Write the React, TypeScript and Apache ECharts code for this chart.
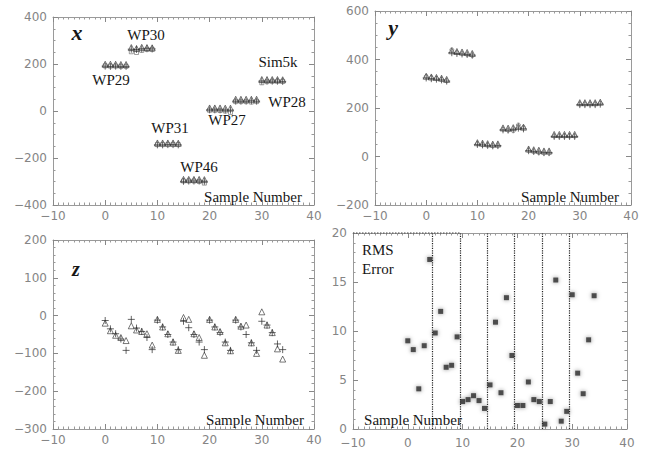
import React, { useEffect, useRef } from "react";
import * as echarts from "echarts";

const sampleNumbers = [0,1,2,3,4,5,6,7,8,9,10,11,12,13,14,15,16,17,18,19,20,21,22,23,24,25,26,27,28,29,30,31,32,33,34];

// x component (panel 1)
const xPlus = [191,190,191,190,190, 263,262,264,265,264, -144,-144,-143,-143,-144, -299,-298,-298,-298,-299, 5,5,5,4,4, 42,42,42,43,42, 127,127,127,127,126];
const xTri  = [199,199,199,198,198, 270,266,271,270,269, -136,-136,-136,-136,-137, -291,-291,-291,-291,-292, 13,13,13,12,12, 50,50,50,50,50, 134,134,134,134,133];
const xSq   = [192,191,191,190,190, 252,249,258,262,262, -143,-143,-143,-143,-143, -298,-298,-298,-300,-307, 3,3,2,0,-6, 40,40,40,38,40, 120,125,126,126,126];

// y component (panel 2)
const yPlus = [324,321,319,316,311, 428,425,423,421,418, 50,48,46,44,45, 110,109,112,117,114, 24,21,19,16,16, 83,83,83,83,83, 214,214,214,214,216];
const yTri  = [331,328,326,323,318, 436,433,431,429,425, 57,55,53,51,52, 118,117,119,124,121, 31,28,26,23,23, 91,91,91,91,91, 222,222,222,222,224];
const yCirc = [330,325,322,318,312, 440,428,424,420,416, 52,48,46,44,44, 112,108,106,130,120, 25,20,16,14,14, 84,84,84,84,84, 216,216,216,216,220];

// z component (panel 3)
const zPlus = [-13,-35,-48,-62,-92, -10,-33,-42,-58,-90, -12,-30,-50,-70,-90, -15,-32,-50,-70,-90, -12,-30,-45,-70,-92, -12,-30,-50,-72,-92, -15,-25,-45,-75,-90];
const zTri  = [-20,-40,-52,-58,-66, -27,-38,-42,-48,-78, -10,-30,-48,-70,-92, -5,-10,-48,-58,-105, -10,-30,-42,-72,-93, -10,-28,-25,-72,-100, 10,-25,-45,-88,-115];

// RMS error (panel 4)
const rmsError = [9.0,8.1,4.1,8.5,17.3, 9.8,12.0,6.3,6.5,9.4, 2.8,3.0,3.4,2.9,2.1, 4.5,10.9,3.7,13.4,7.5, 2.4,2.4,4.8,3.0,2.8, 0.5,2.8,15.2,0.8,1.8, 13.7,5.7,3.6,9.1,13.6];
const groupBoundaries = [4.5, 9.5, 14.5, 19.5, 24.5, 29.5];

const groupLabels = ["WP29", "WP30", "WP31", "WP46", "WP27", "WP28", "Sim5k"];

const PLUS = "path://M0,5L10,5M5,0L5,10";
const INK = "#161616";
const FRAME = "#9a9a9a";

const fmt = (v: number) => (v < 0 ? "\u2212" + Math.abs(v) : String(v));

function xAxes(gridIndex: number, opts: any = {}) {
  const common = {
    type: "value",
    gridIndex,
    min: -10,
    max: 40,
    interval: 10,
    splitLine: { show: false },
    axisLine: { show: true, onZero: false, lineStyle: { color: FRAME, width: 1 } },
    axisTick: { show: true, inside: true, length: 5, lineStyle: { color: "#888" } },
    minorTick: { show: true, splitNumber: 10, length: 2.5, lineStyle: { color: "#999" } },
  };
  return [
    {
      ...common,
      position: "bottom",
      axisLine: { ...common.axisLine, ...(opts.bottomLine || {}) },
      axisLabel: { show: true, color: "#858585", fontFamily: "DejaVu Sans", fontSize: 12, margin: opts.labelMargin ?? 5, formatter: fmt },
    },
    {
      ...common,
      position: "top",
      axisLine: { ...common.axisLine, ...(opts.topLine || {}) },
      axisLabel: { show: false },
    },
  ];
}

function yAxes(gridIndex: number, min: number, max: number, interval: number, minorSplit: number, opts: any = {}) {
  const common = {
    type: "value",
    gridIndex,
    min,
    max,
    interval,
    splitLine: { show: false },
    axisLine: { show: true, onZero: false, lineStyle: { color: FRAME, width: 1 } },
    axisTick: { show: true, inside: true, length: 5, lineStyle: { color: "#888" } },
    minorTick: { show: true, splitNumber: minorSplit, length: 2.5, lineStyle: { color: "#999" } },
  };
  return [
    {
      ...common,
      position: "left",
      axisLine: { ...common.axisLine, ...(opts.leftLine || {}) },
      axisLabel: { show: true, color: "#858585", fontFamily: "DejaVu Sans", fontSize: 12, margin: 6, formatter: fmt },
    },
    {
      ...common,
      position: "right",
      axisLine: { ...common.axisLine, ...(opts.rightLine || {}) },
      axisLabel: { show: false },
    },
  ];
}

const hollow = { color: "rgba(0,0,0,0)", borderColor: "#2a2a2a", borderWidth: 0.9 };

function pts(vals: number[]) {
  return sampleNumbers.map((s, i) => [s, vals[i]]);
}

function markerSeries(idx: number, plus: number[], tri: number[], third?: number[], thirdSymbol?: string) {
  const list: any[] = [
    { type: "scatter", xAxisIndex: idx * 2, yAxisIndex: idx * 2, symbol: PLUS, symbolSize: 7, itemStyle: hollow, data: pts(plus) },
    { type: "scatter", xAxisIndex: idx * 2, yAxisIndex: idx * 2, symbol: "triangle", symbolSize: 6, itemStyle: { ...hollow, borderWidth: 0.8 }, data: pts(tri) },
  ];
  if (third) {
    list.push({ type: "scatter", xAxisIndex: idx * 2, yAxisIndex: idx * 2, symbol: thirdSymbol, symbolSize: 4, itemStyle: { ...hollow, borderWidth: 0.7, borderColor: "#555" }, data: pts(third) });
  }
  return list;
}

const SERIF = "Liberation Serif";

function txt(text: string, x: number, y: number, size = 15, extra: any = {}) {
  return {
    type: "text",
    x,
    y,
    z: 100,
    style: {
      text,
      fill: INK,
      fontFamily: SERIF,
      fontSize: size,
      align: "center",
      verticalAlign: "middle",
      ...extra,
    },
  };
}

export default function App() {
  const ref = useRef<HTMLDivElement>(null);
  useEffect(() => {
    document.body.style.margin = "0";
    const chart = echarts.init(ref.current!, undefined, { renderer: "svg" });
    const grids = [
      { left: 53, top: 17, width: 261, height: 188 },
      { left: 375, top: 11, width: 256, height: 194 },
      { left: 53, top: 240, width: 261, height: 189 },
      { left: 353, top: 233, width: 274, height: 196 },
    ];
    const xAxis = [
      ...xAxes(0),
      ...xAxes(1),
      ...xAxes(2),
      ...xAxes(3, {
        bottomLine: { color: "#444", type: "dotted" },
        topLine: { color: "#9c9c9c", width: 2 },
        labelMargin: 8,
      }),
    ];
    const yAxis = [
      ...yAxes(0, -400, 400, 200, 4),
      ...yAxes(1, -200, 600, 200, 4),
      ...yAxes(2, -300, 200, 100, 5),
      ...yAxes(3, 0, 20, 5, 5, {
        leftLine: { color: "#444", type: "dotted" },
        rightLine: { color: "#aaa", width: 1.5 },
      }),
    ];
    const series: any[] = [
      ...markerSeries(0, xPlus, xTri, xSq, "rect"),
      ...markerSeries(1, yPlus, yTri, yCirc, "circle"),
      ...markerSeries(2, zPlus, zTri),
      {
        type: "scatter",
        xAxisIndex: 6,
        yAxisIndex: 6,
        symbol: "rect",
        symbolSize: 5,
        itemStyle: { color: "#2a2a2a", shadowBlur: 4, shadowColor: "rgba(0,0,0,0.55)" },
        data: pts(rmsError),
        markLine: {
          silent: true,
          symbol: "none",
          label: { show: false },
          lineStyle: { color: "#222", type: "dotted", width: 1.2 },
          data: groupBoundaries.map((b) => ({ xAxis: b })),
        },
      },
    ];
    const graphic: any[] = [
      txt(groupLabels[0], 111, 80),
      txt(groupLabels[1], 146, 35),
      txt(groupLabels[2], 170, 128),
      txt(groupLabels[3], 199, 167),
      txt(groupLabels[4], 227, 120),
      txt(groupLabels[5], 287, 102),
      txt(groupLabels[6], 278, 62),
      txt("Sample Number", 253, 197),
      txt("Sample Number", 570, 197),
      txt("Sample Number", 255, 420),
      txt("Sample Number", 413, 420),
      txt("RMS", 362, 250, 15, { align: "left" }),
      txt("Error", 362, 269, 15, { align: "left" }),
      txt("x", 77, 32, 22, { fontStyle: "italic", fontWeight: "bold" }),
      txt("y", 393, 27, 22, { fontStyle: "italic", fontWeight: "bold" }),
      txt("z", 76, 269, 20, { fontStyle: "italic", fontWeight: "bold" }),
      { type: "line", z: 100, shape: { x1: 353, y1: 233, x2: 460, y2: 233 }, style: { stroke: "#444", lineDash: [1.5, 1.5], lineWidth: 1.2 } },
    ];
    chart.setOption({
      animation: false,
      backgroundColor: "#ffffff",
      grid: grids,
      xAxis,
      yAxis,
      series,
      graphic,
    });
    return () => chart.dispose();
  }, []);
  return <div ref={ref} style={{ width: 649, height: 454 }} />;
}
